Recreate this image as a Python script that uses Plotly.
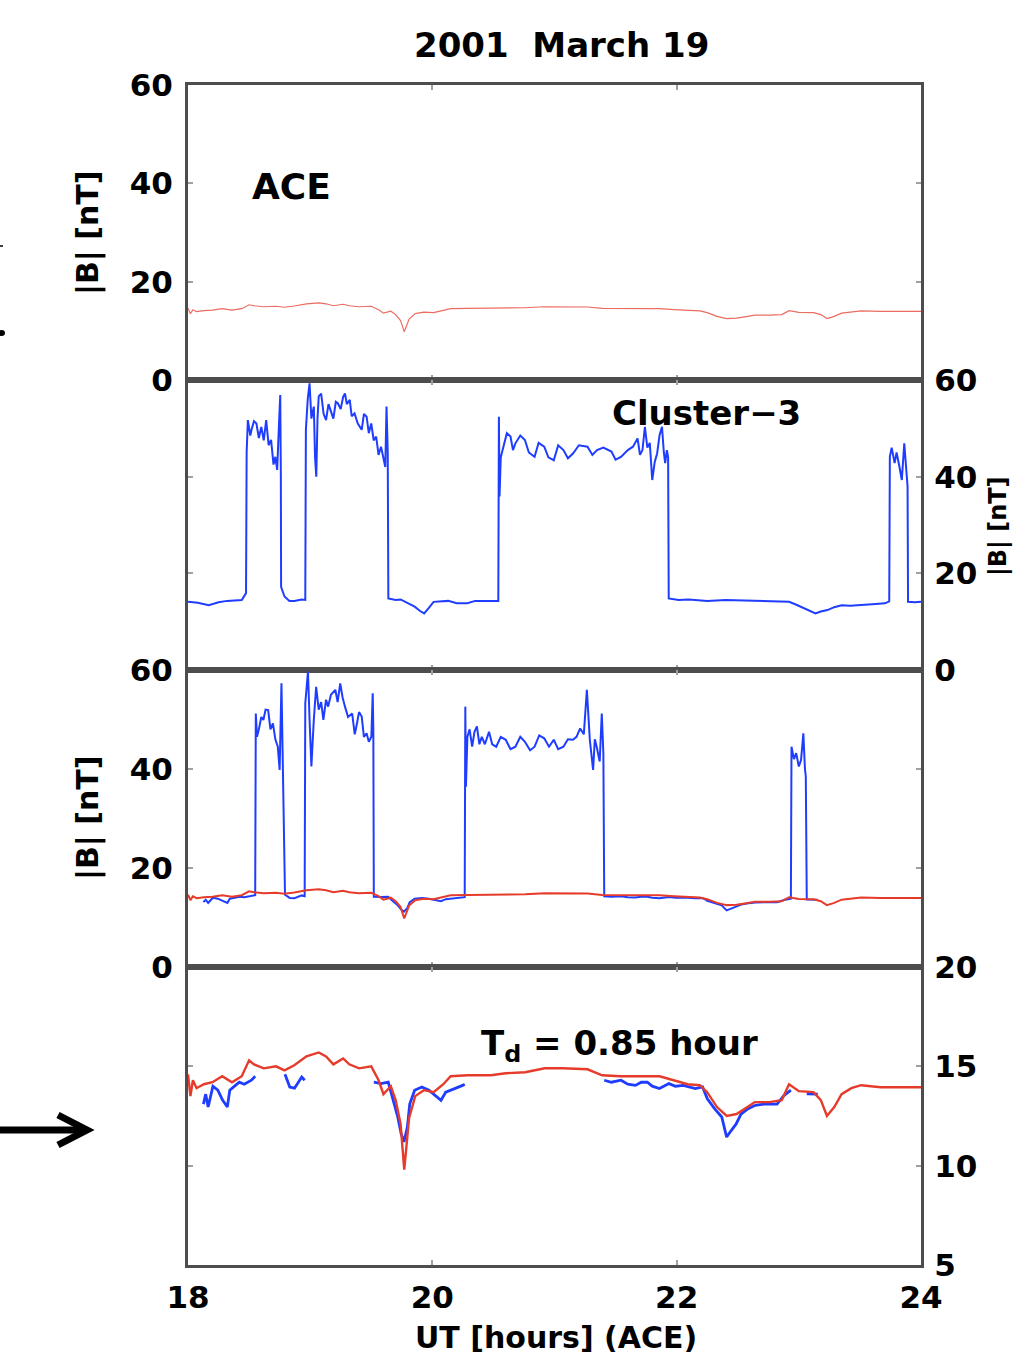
import plotly.graph_objects as go

# ---------------- data ----------------
# ACE |B| [nT] vs UT hours
ACE_T = [18.00, 18.02, 18.04, 18.07, 18.13, 18.20, 18.28, 18.36, 18.44, 18.50, 18.54, 18.62,
         18.72, 18.79, 18.87, 18.97, 19.07, 19.13, 19.19, 19.27, 19.32, 19.40, 19.50, 19.56,
         19.60, 19.66, 19.70, 19.74, 19.77, 19.81, 19.86, 19.93, 20.01, 20.09, 20.15, 20.29,
         20.48, 20.60, 20.76, 20.92, 21.07, 21.27, 21.39, 21.54, 21.86, 21.98, 22.09, 22.19,
         22.25, 22.33, 22.41, 22.49, 22.57, 22.64, 22.76, 22.86, 22.92, 23.00, 23.12, 23.18,
         23.23, 23.29, 23.35, 23.43, 23.51, 23.67, 23.82, 24.00]
ACE_B = [14.6, 13.5, 14.3, 13.9, 14.1, 14.2, 14.5, 14.2, 14.5, 15.3, 15.1, 14.9,
         15.0, 14.8, 15.05, 15.5, 15.7, 15.5, 15.1, 15.4, 15.1, 14.9, 15.0, 14.3,
         13.6, 14.0, 13.3, 12.1, 9.8, 12.4, 13.5, 13.8, 13.7, 14.1, 14.5, 14.55,
         14.55, 14.65, 14.7, 14.9, 14.9, 14.85, 14.55, 14.5, 14.5, 14.3, 14.1, 14.05,
         13.7, 12.95, 12.5, 12.6, 12.9, 13.2, 13.2, 13.3, 14.1, 13.75, 13.7, 13.3,
         12.5, 12.95, 13.6, 13.9, 14.05, 13.95, 13.95, 13.95]

# Cluster-3 |B| [nT] (panel 2)
C3_T = [18.00, 18.08, 18.17, 18.25, 18.32, 18.44, 18.475, 18.48, 18.49, 18.51, 18.52, 18.54,
        18.56, 18.58, 18.60, 18.62, 18.64, 18.66, 18.68, 18.70, 18.715, 18.73, 18.745, 18.755,
        18.76, 18.762, 18.77, 18.79, 18.83, 18.87, 18.93, 18.96, 18.965, 18.98, 18.995, 19.01,
        19.03, 19.04, 19.05, 19.06, 19.07, 19.09, 19.11, 19.13, 19.15, 19.167, 19.19, 19.21,
        19.226, 19.25, 19.27, 19.285, 19.30, 19.324, 19.34, 19.363, 19.39, 19.422, 19.44, 19.462,
        19.48, 19.50, 19.52, 19.54, 19.56, 19.58, 19.60, 19.615, 19.625, 19.635, 19.64, 19.70,
        19.74, 19.80, 19.855, 19.90, 19.933, 19.97, 20.01, 20.13, 20.20, 20.287, 20.35, 20.405,
        20.54, 20.545, 20.55, 20.56, 20.58, 20.61, 20.64, 20.66, 20.68, 20.72, 20.758, 20.79,
        20.837, 20.87, 20.916, 20.95, 20.994, 21.03, 21.073, 21.11, 21.151, 21.20, 21.27, 21.31,
        21.348, 21.40, 21.466, 21.50, 21.544, 21.60, 21.642, 21.68, 21.70, 21.72, 21.74, 21.76,
        21.78, 21.80, 21.82, 21.84, 21.86, 21.88, 21.895, 21.906, 21.92, 21.93, 21.935, 22.016,
        22.10, 22.25, 22.40, 22.644, 22.80, 22.92, 22.98, 23.037, 23.09, 23.136, 23.18, 23.234,
        23.29, 23.35, 23.42, 23.51, 23.60, 23.705, 23.74, 23.745, 23.76, 23.784, 23.80, 23.823,
        23.843, 23.863, 23.875, 23.882, 23.89, 23.894, 23.95, 24.00]
C3_B = [14.1, 13.9, 13.4, 14.0, 14.3, 14.5, 15.9, 45.0, 51.7, 48.5, 49.7, 51.5,
        51.0, 48.0, 50.3, 47.5, 51.7, 46.5, 47.6, 42.5, 44.1, 41.4, 51.0, 56.9,
        40.0, 17.2, 16.6, 15.2, 14.3, 14.3, 14.6, 14.5, 49.7, 56.0, 59.3, 52.0,
        54.5, 44.0, 40.0, 52.0, 56.6, 57.2, 53.0, 51.7, 55.0, 53.8, 52.0, 55.5,
        55.2, 54.0, 56.5, 57.2, 55.0, 55.9, 52.5, 53.1, 51.0, 49.7, 53.0, 52.4,
        49.0, 51.0, 47.5, 48.3, 44.5, 46.2, 43.4, 42.0, 54.5, 45.0, 14.8, 14.5,
        14.6, 13.8, 13.1, 12.2, 11.7, 12.8, 14.1, 14.3, 13.8, 13.8, 14.3, 14.3,
        14.3, 52.4, 35.9, 44.0, 46.2, 49.0, 48.3, 45.5, 46.9, 48.5, 47.6, 45.0,
        44.1, 47.0, 46.2, 44.0, 43.4, 46.5, 45.5, 43.8, 44.8, 46.5, 46.2, 44.5,
        45.5, 46.0, 45.2, 43.5, 44.1, 45.5, 46.2, 47.9, 44.5, 45.5, 50.3, 46.0,
        47.0, 39.3, 43.0, 44.8, 48.6, 50.3, 45.0, 42.8, 45.5, 44.0, 14.8, 14.5,
        14.6, 14.3, 14.5, 14.3, 14.3, 14.1, 13.5, 12.8, 12.2, 11.7, 12.1, 12.4,
        13.0, 13.4, 13.3, 13.4, 13.6, 13.8, 14.2, 44.1, 46.0, 42.8, 45.0, 42.1,
        39.3, 46.9, 43.0, 40.7, 38.0, 14.1, 14.0, 14.1]

# Cluster-3 |B| [nT] time-shifted onto ACE time (panels 3 and 4)
C3S_T = [18.126, 18.145, 18.165, 18.204, 18.244, 18.283, 18.322, 18.342, 18.381, 18.420, 18.460, 18.519,
         18.550, 18.555, 18.565, 18.580, 18.600, 18.617, 18.635, 18.656, 18.675, 18.695, 18.715, 18.735,
         18.750, 18.765, 18.775, 18.794, 18.833, 18.872, 18.931, 18.955, 18.960, 18.982, 18.995, 19.010,
         19.030, 19.049, 19.070, 19.090, 19.108, 19.130, 19.147, 19.170, 19.206, 19.225, 19.246, 19.265,
         19.285, 19.310, 19.344, 19.365, 19.383, 19.400, 19.422, 19.440, 19.462, 19.480, 19.501, 19.512,
         19.517, 19.521, 19.580, 19.639, 19.678, 19.717, 19.745, 19.768, 19.796, 19.815, 19.855, 19.914,
         19.972, 20.012, 20.071, 20.110, 20.189, 20.248, 20.265, 20.270, 20.275, 20.287, 20.305, 20.326,
         20.345, 20.365, 20.385, 20.405, 20.430, 20.464, 20.490, 20.523, 20.560, 20.601, 20.640, 20.680,
         20.720, 20.758, 20.800, 20.837, 20.875, 20.916, 20.955, 20.994, 21.030, 21.073, 21.110, 21.151,
         21.180, 21.210, 21.240, 21.265, 21.275, 21.289, 21.316, 21.330, 21.348, 21.370, 21.387, 21.400,
         21.407, 21.466, 21.544, 21.600, 21.662, 21.710, 21.760, 21.800, 21.859, 21.937, 21.990, 22.055,
         22.153, 22.212, 22.251, 22.310, 22.369, 22.409, 22.448, 22.487, 22.527, 22.585, 22.644, 22.723,
         22.821, 22.880, 22.935, 22.940, 22.960, 22.978, 23.000, 23.018, 23.037, 23.050, 23.057, 23.065,
         23.077, 23.155]
C3S_B = [13.1, 13.6, 12.95, 14.0, 13.8, 13.3, 12.95, 13.8, 14.0, 14.2, 14.1, 14.3,
         14.5, 51.2, 46.5, 48.0, 50.5, 49.9, 52.0, 51.9, 48.0, 49.2, 46.0, 44.5,
         39.8, 57.3, 40.0, 14.6, 13.96, 13.9, 14.46, 14.3, 53.3, 59.7, 50.0, 40.5,
         50.0, 56.6, 52.0, 53.5, 49.9, 54.0, 52.6, 55.0, 56.0, 53.5, 57.3, 54.5,
         52.6, 50.5, 51.2, 47.0, 49.2, 51.5, 50.6, 46.5, 47.2, 45.5, 46.5, 55.3,
         48.0, 14.2, 14.13, 14.2, 13.3, 12.45, 11.6, 11.2, 11.95, 13.1, 13.8, 13.96,
         13.8, 13.6, 13.29, 13.7, 13.88, 14.04, 14.1, 52.6, 36.4, 46.5, 48.0, 44.5,
         47.5, 48.6, 45.0, 46.5, 45.0, 47.5, 45.0, 44.5, 46.5, 45.9, 44.0, 44.5,
         46.5, 45.5, 43.8, 44.5, 46.8, 46.2, 44.5, 45.9, 44.0, 44.5, 46.0, 45.9,
         46.5, 48.2, 47.0, 56.0, 52.0, 45.9, 39.8, 46.0, 44.2, 41.5, 51.2, 43.2,
         14.3, 14.2, 14.3, 14.1, 14.04, 14.2, 14.2, 14.0, 13.88, 14.13, 14.0, 14.04,
         13.88, 13.96, 13.37, 12.87, 12.45, 11.44, 11.78, 12.1, 12.6, 12.87, 13.04, 13.1,
         13.1, 13.54, 13.8, 44.5, 42.0, 43.2, 40.5, 41.8, 47.2, 40.0, 38.5, 13.62,
         13.62, 13.6]

X_TICKS = [18, 20, 22, 24]
Y_TICKS_B = [0, 20, 40, 60]
Y_TICKS_Z = [5, 10, 15, 20]

# ---------------- layout helpers ----------------
W, H = 1015, 1355
L, R, T, B = 188, 921, 85, 1265


def px(x):
    return (x - L) / (R - L)


def py(y):
    return (B - y) / (B - T)


RED = "#e63b2b"
BLUE = "#1f3dff"
FONT = "DejaVu Sans"

# panel 4 blue: only points inside its 5-20 range (solar-wind intervals)
C3S_B_LOW = [b if b <= 20 else None for b in C3S_B]

fig = go.Figure()
fig.add_trace(go.Scatter(x=ACE_T, y=ACE_B, mode="lines", xaxis="x", yaxis="y",
                         line=dict(color="rgba(230,59,43,0.75)", width=1.2), showlegend=False))
fig.add_trace(go.Scatter(x=C3_T, y=C3_B, mode="lines", xaxis="x2", yaxis="y2",
                         line=dict(color=BLUE, width=2.0), showlegend=False))
fig.add_trace(go.Scatter(x=C3S_T, y=C3S_B, mode="lines", xaxis="x3", yaxis="y3",
                         line=dict(color=BLUE, width=2.0), showlegend=False))
fig.add_trace(go.Scatter(x=ACE_T, y=ACE_B, mode="lines", xaxis="x3", yaxis="y3",
                         line=dict(color=RED, width=2.0), showlegend=False))
fig.add_trace(go.Scatter(x=C3S_T, y=C3S_B_LOW, mode="lines", xaxis="x4", yaxis="y4",
                         line=dict(color=BLUE, width=2.8), connectgaps=False, showlegend=False))
fig.add_trace(go.Scatter(x=ACE_T, y=ACE_B, mode="lines", xaxis="x4", yaxis="y4",
                         line=dict(color=RED, width=2.4), showlegend=False))

tickfont = dict(family=FONT, size=31, color="black", weight="bold")
axcommon = dict(showline=True, linewidth=3, linecolor="#4d4d4d", mirror="ticks",
                ticks="inside", ticklen=5, tickwidth=2, tickcolor="#a0a0a0",
                showgrid=False, zeroline=False, tickfont=tickfont, fixedrange=True)

doms = [(py(380), 1.0), (py(670), py(380)), (py(967), py(670)), (0.0, py(967))]

layout = dict(width=W, height=H, margin=dict(l=L, r=W - R, t=T, b=H - B),
              paper_bgcolor="white", plot_bgcolor="white", showlegend=False)

for i in range(4):
    k = "" if i == 0 else str(i + 1)
    layout["xaxis" + k] = dict(axcommon, domain=[0, 1], anchor="y" + k, range=[18, 24],
                               tickvals=X_TICKS, ticktext=[str(v) for v in X_TICKS],
                               showticklabels=(i == 3), ticklabelstandoff=3)
    if i < 3:
        ydict = dict(range=[0, 60], tickvals=Y_TICKS_B, ticktext=[str(v) for v in Y_TICKS_B])
    else:
        ydict = dict(range=[5, 20], tickvals=Y_TICKS_Z, ticktext=[str(v) for v in Y_TICKS_Z])
    side = "left" if i in (0, 2) else "right"
    layout["yaxis" + k] = dict(axcommon, domain=list(doms[i]), anchor="x" + k, side=side,
                               ticklabelstandoff=(6 if side == "left" else 4), **ydict)

big = dict(family=FONT, size=34, color="black", weight="bold")
lab = dict(family=FONT, size=30, color="black", weight="bold")
annotations = [
    dict(text="2001  March 19", x=px(561), y=py(45), xref="paper", yref="paper",
         showarrow=False, font=big, xanchor="center", yanchor="middle"),
    dict(text="ACE", x=px(291), y=py(186), xref="paper", yref="paper",
         showarrow=False, font=dict(big, size=36), xanchor="center", yanchor="middle"),
    dict(text="Cluster\u22123", x=px(706), y=py(413), xref="paper", yref="paper",
         showarrow=False, font=big, xanchor="center", yanchor="middle"),
    dict(text="T<sub>d</sub> = 0.85 hour", x=px(619), y=py(1045), xref="paper", yref="paper",
         showarrow=False, font=big, xanchor="center", yanchor="middle"),
    dict(text="|B| [nT]", x=px(88), y=py(233), xref="paper", yref="paper", textangle=-90,
         showarrow=False, font=lab, xanchor="center", yanchor="middle"),
    dict(text="|B| [nT]", x=px(88), y=py(818), xref="paper", yref="paper", textangle=-90,
         showarrow=False, font=lab, xanchor="center", yanchor="middle"),
    dict(text="|B| [nT]", x=px(1014), y=py(526), xref="paper", yref="paper", textangle=-90,
         showarrow=False, font=dict(lab, size=24), xanchor="right", yanchor="middle"),
    dict(text="UT [hours] (ACE)", x=px(556), y=py(1356), xref="paper", yref="paper",
         showarrow=False, font=dict(big, size=30), xanchor="center", yanchor="bottom",
         borderpad=0),
]
layout["annotations"] = annotations

# decorative arrow at left edge + small marks
shapes = [
    dict(type="line", xref="paper", yref="paper", x0=px(-5), y0=py(1130), x1=px(82), y1=py(1130),
         line=dict(color="black", width=7)),
    dict(type="path", xref="paper", yref="paper",
         path=f"M {px(58)},{py(1115)} L {px(87)},{py(1130)} L {px(58)},{py(1145)}",
         line=dict(color="black", width=7)),
    dict(type="line", xref="paper", yref="paper", x0=px(-3), y0=py(246), x1=px(3), y1=py(246),
         line=dict(color="black", width=1.5)),
    dict(type="circle", xref="paper", yref="paper", x0=px(-2), y0=py(336), x1=px(5), y1=py(330),
         fillcolor="black", line=dict(color="black", width=0)),
]
layout["shapes"] = shapes

fig.update_layout(**layout)
fig.write_html("out.html")
